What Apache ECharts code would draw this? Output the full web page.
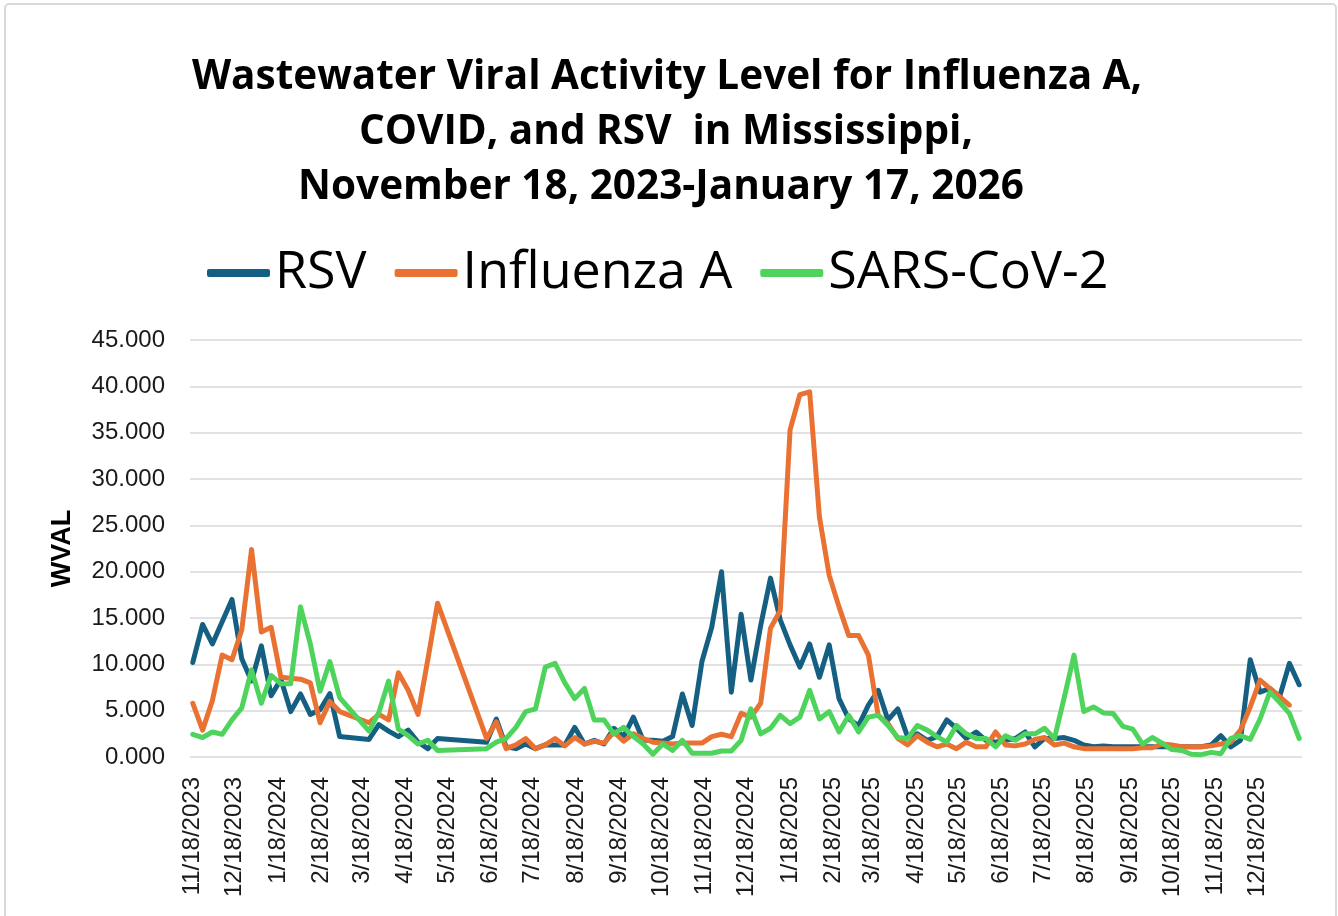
<!DOCTYPE html>
<html>
<head>
<meta charset="utf-8">
<script src="https://cdn.jsdelivr.net/npm/echarts@6/dist/echarts.min.js"></script>
<style>
html,body{margin:0;padding:0;background:#fff;}
#chart{width:1338px;height:916px;}
</style>
</head>
<body>
<div id="chart"></div>
<script>
// Weekly sample dates (Saturdays)
const weeks = [
'2023-11-18','2023-11-25','2023-12-02','2023-12-09','2023-12-16','2023-12-23','2023-12-30',
'2024-01-06','2024-01-13','2024-01-20','2024-01-27','2024-02-03','2024-02-10','2024-02-17','2024-02-24',
'2024-03-02','2024-03-09','2024-03-16','2024-03-23','2024-03-30','2024-04-06','2024-04-13','2024-04-20','2024-04-27',
'2024-05-04','2024-05-11','2024-05-18','2024-05-25','2024-06-01','2024-06-08','2024-06-15','2024-06-22','2024-06-29',
'2024-07-06','2024-07-13','2024-07-20','2024-07-27','2024-08-03','2024-08-10','2024-08-17','2024-08-24','2024-08-31',
'2024-09-07','2024-09-14','2024-09-21','2024-09-28','2024-10-05','2024-10-12','2024-10-19','2024-10-26',
'2024-11-02','2024-11-09','2024-11-16','2024-11-23','2024-11-30','2024-12-07','2024-12-14','2024-12-21','2024-12-28',
'2025-01-04','2025-01-11','2025-01-18','2025-01-25','2025-02-01','2025-02-08','2025-02-15','2025-02-22',
'2025-03-01','2025-03-08','2025-03-15','2025-03-22','2025-03-29','2025-04-05','2025-04-12','2025-04-19','2025-04-26',
'2025-05-03','2025-05-10','2025-05-17','2025-05-24','2025-05-31','2025-06-07','2025-06-14','2025-06-21','2025-06-28',
'2025-07-05','2025-07-12','2025-07-19','2025-07-26','2025-08-02','2025-08-09','2025-08-16','2025-08-23','2025-08-30',
'2025-09-06','2025-09-13','2025-09-20','2025-09-27','2025-10-04','2025-10-11','2025-10-18','2025-10-25',
'2025-11-01','2025-11-08','2025-11-15','2025-11-22','2025-11-29','2025-12-06','2025-12-13','2025-12-20','2025-12-27',
'2026-01-03','2026-01-10','2026-01-17'
];

const rsv = [
10.2,14.3,12.2,14.6,17.0,10.6,8.2,
12.0,6.6,8.4,4.9,6.8,4.6,5.1,6.85,
2.2,null,null,1.9,3.5,2.8,2.2,2.9,1.6,
0.9,2.0,null,null,null,null,1.6,4.1,1.1,
0.9,1.4,0.9,1.3,1.3,1.3,3.2,1.4,1.8,
1.4,3.1,2.2,4.3,1.8,1.8,1.7,2.2,
6.8,3.4,10.3,14.0,20.0,7.0,15.4,8.3,14.2,
19.3,14.8,12.1,9.7,12.2,8.6,12.1,6.3,
4.1,3.4,5.6,7.2,4.0,5.2,2.2,2.5,1.8,
2.2,4.0,3.1,2.0,2.7,1.8,1.6,1.8,2.0,
2.7,1.1,2.0,2.0,2.1,1.8,1.3,1.1,1.2,
1.1,1.1,1.1,1.1,1.1,1.1,1.1,1.1,
1.1,1.1,1.3,2.3,1.1,1.8,10.5,7.0,7.4,
6.5,10.1,7.8
];

const fluA = [
5.8,2.9,6.1,11.0,10.5,13.7,22.4,
13.5,14.0,8.6,8.5,8.4,8.0,3.7,6.0,
4.9,null,null,3.7,4.6,4.0,9.1,7.2,4.6,
10.5,16.6,null,null,null,null,2.0,3.8,0.9,
1.3,2.0,0.9,1.3,2.0,1.2,2.1,1.4,1.7,
1.5,2.7,1.7,2.5,2.0,1.6,1.5,1.4,
1.5,1.5,1.5,2.2,2.45,2.2,4.7,4.3,5.8,
13.9,15.8,35.3,39.1,39.4,25.9,19.6,16.2,
13.1,13.1,11.0,4.5,3.6,2.0,1.3,2.3,1.6,
1.1,1.4,0.9,1.6,1.1,1.1,2.7,1.3,1.2,
1.4,1.9,2.1,1.3,1.5,1.1,0.9,0.9,0.9,
0.9,0.9,0.9,1.0,1.0,1.4,1.3,1.1,
1.1,1.1,1.2,1.4,1.6,2.9,5.4,8.3,7.4,
6.5,5.6
];

const sars = [
2.45,2.1,2.7,2.45,4.0,5.3,9.4,
5.8,8.8,7.9,7.9,16.2,12.2,7.1,10.3,
6.4,null,null,2.8,4.8,8.2,3.0,2.3,1.4,
1.8,0.7,null,null,null,null,0.9,1.6,2.0,
3.2,4.9,5.2,9.7,10.1,8.0,6.3,7.4,4.0,
4.0,2.5,3.2,2.2,1.4,0.3,1.4,0.7,
1.8,0.4,0.4,0.4,0.65,0.65,1.8,5.2,2.5,
3.1,4.5,3.6,4.3,7.2,4.1,4.9,2.7,
4.5,2.7,4.3,4.5,3.4,2.1,2.0,3.4,2.9,
2.2,1.6,3.4,2.5,2.0,2.0,1.1,2.3,1.8,
2.5,2.5,3.1,2.0,6.4,11.0,4.9,5.4,4.75,
4.7,3.3,3.0,1.4,2.1,1.5,0.8,0.7,
0.3,0.25,0.5,0.35,2.0,2.3,1.9,4.1,7.0,
5.9,4.7,2.0
];

const seriesNames = ['RSV','Influenza A','SARS-CoV-2'];
const titleLines = [
  'Wastewater Viral Activity Level for Influenza A,',
  'COVID, and RSV  in Mississippi,',
  'November 18, 2023-January 17, 2026'
];
const colors = ['#156082','#E97132','#4ED45C'];
const yTicks = [0,5,10,15,20,25,30,35,40,45];
const xRange = ['2023-11-16','2026-01-19'];

function ts(s) { const p = s.split('-').map(Number); return new Date(p[0], p[1]-1, p[2]).getTime(); }
// Month labels on the 18th
const labelMonths = [];
for (let y = 2023, m = 10; y < 2025 || (y === 2025 && m <= 11); ) {
  labelMonths.push(new Date(y, m, 18).getTime());
  m++; if (m > 11) { m = 0; y++; }
}

const chart = echarts.init(document.getElementById('chart'), null, {renderer:'canvas'});
const mk = (vals) => weeks.map((d,i) => [ts(d), vals[i]]);
const allVals = [rsv, fluA, sars];
const titleCenters = [667, 666, 661];

chart.setOption({
  animation: false,
  backgroundColor: '#fff',
  title: titleLines.map((t, i) => ({
    text: t,
    left: titleCenters[i],
    top: 50 + i * 55,
    textAlign: 'center',
    padding: 0,
    textStyle: {fontFamily: 'Open Sans', fontWeight: 'bold', fontSize: 40.5, lineHeight: 55, color: '#000'}
  })),
  legend: {
    data: seriesNames,
    top: 247,
    left: 207,
    padding: 0,
    itemWidth: 63,
    itemHeight: 8,
    itemGap: 28,
    icon: 'roundRect',
    textStyle: {fontFamily: 'Open Sans', fontSize: 52, color: '#000'}
  },
  grid: {left: 190, right: 36, top: 340, bottom: 159, containLabel: false},
  xAxis: {
    type: 'value',
    min: ts(xRange[0]),
    max: ts(xRange[1]),
    axisLine: {show: false},
    axisTick: {show: false},
    splitLine: {show: false},
    axisLabel: {
      customValues: labelMonths,
      rotate: 90,
      margin: 20,
      fontFamily: 'Liberation Sans',
      fontSize: 24,
      color: '#1a1a1a',
      formatter: function (v) {
        const d = new Date(v);
        return (d.getMonth()+1) + '/' + d.getDate() + '/' + d.getFullYear();
      }
    }
  },
  yAxis: {
    type: 'value',
    min: yTicks[0],
    max: yTicks[yTicks.length-1],
    interval: 5,
    name: 'WVAL',
    nameLocation: 'middle',
    nameRotate: 90,
    nameGap: 114,
    nameTextStyle: {fontFamily: 'Liberation Sans', fontWeight: 'bold', fontSize: 27, color: '#000'},
    axisLine: {show: false},
    axisTick: {show: false},
    splitLine: {lineStyle: {color: '#D9D9D9', width: 1.5}},
    axisLabel: {
      fontFamily: 'Liberation Sans', fontSize: 24, color: '#1a1a1a', margin: 25,
      formatter: v => v.toFixed(3)
    }
  },
  series: seriesNames.map((n, i) => ({
    name: n,
    type: 'line',
    data: mk(allVals[i]),
    connectNulls: true,
    showSymbol: false,
    symbol: 'none',
    color: colors[i],
    lineStyle: {width: 5, cap: 'round', join: 'round', color: colors[i]}
  })),
  graphic: [{
    type: 'rect', silent: true, z: -1,
    shape: {x: 5, y: 4, width: 1331, height: 1000, r: 4},
    style: {fill: 'none', stroke: '#D9D9D9', lineWidth: 2}
  }]
});
</script>
</body>
</html>
